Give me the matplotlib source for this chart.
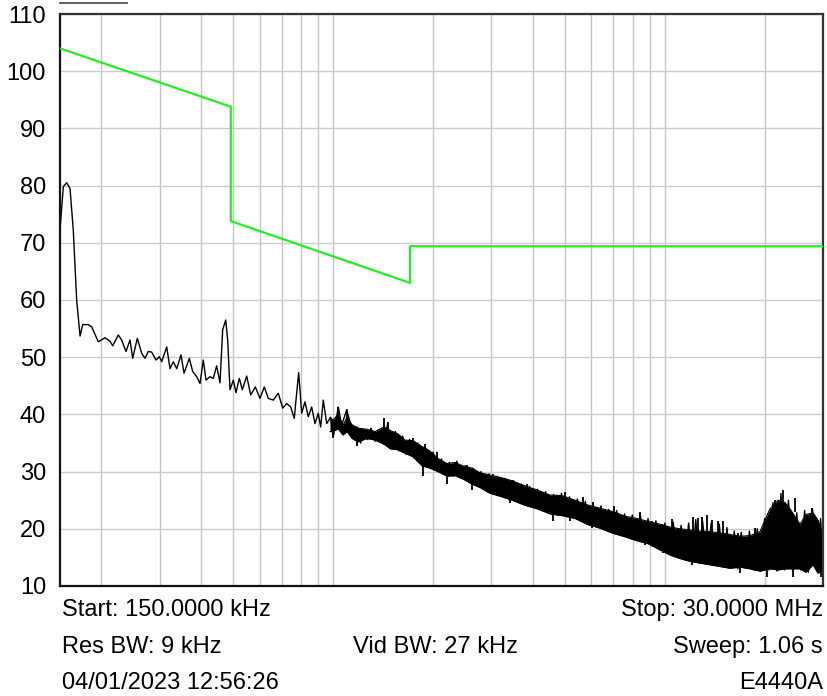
import matplotlib
matplotlib.use("Agg")
import matplotlib.pyplot as plt
from matplotlib.lines import Line2D

plt.rcParams['font.family'] = ['Liberation Sans', 'DejaVu Sans']

# ---- data ----
# Limit line (MHz, dBuV)
limit_f_mhz = [0.15, 0.491, 0.491, 1.705, 1.705, 30.0]
limit_db = [104.0, 93.8, 73.8, 63.0, 69.4, 69.4]

# Measured trace, low-frequency detail (MHz, dBuV)
trace_f_mhz = [0.150, 0.1535, 0.1571, 0.1608, 0.1645, 0.1684, 0.1724, 0.1756, 0.1826, 0.1869,
               0.1957, 0.2050, 0.2123, 0.2163, 0.2249, 0.2302, 0.2372, 0.2439, 0.2485, 0.2566,
               0.2645, 0.2706, 0.2769, 0.2835, 0.2922, 0.2990, 0.3040, 0.3088, 0.3147, 0.3220,
               0.3295, 0.3373, 0.3476, 0.3549, 0.3682, 0.3770, 0.3875, 0.3966, 0.4057, 0.4134,
               0.4250, 0.4349, 0.4453, 0.4556, 0.4642, 0.4740, 0.4806, 0.4884, 0.4997, 0.5092,
               0.5210, 0.5320, 0.5484, 0.5639, 0.5822, 0.6014, 0.6197, 0.6372, 0.6596, 0.6829,
               0.7042, 0.7241, 0.7444, 0.7632, 0.7723, 0.7868, 0.8035, 0.8220, 0.8411, 0.8612,
               0.8812, 0.9015, 0.9168, 0.9335, 0.9558, 0.9826, 1.0007, 1.0361, 1.0607, 1.0982]
trace_db = [72.2, 79.8, 80.5, 79.5, 72.2, 60.0, 53.7, 55.7, 55.7, 55.3,
            52.7, 53.4, 52.8, 52.0, 53.9, 53.0, 51.0, 53.0, 49.8, 53.3,
            50.7, 49.8, 51.0, 50.9, 49.5, 50.1, 49.2, 50.4, 51.8, 48.0,
            49.2, 48.0, 50.4, 47.2, 49.8, 47.5, 46.6, 45.4, 49.5, 46.0,
            46.6, 46.3, 48.5, 45.5, 54.8, 56.5, 53.0, 44.3, 46.0, 43.8,
            46.3, 44.3, 46.7, 43.4, 44.8, 42.8, 44.8, 42.8, 42.5, 43.7,
            41.1, 41.9, 41.3, 39.3, 42.5, 47.3, 40.2, 42.2, 39.6, 41.3,
            38.4, 40.2, 37.8, 42.5, 38.4, 39.5, 36.1, 41.3, 38.1, 40.8]

# Dense high-frequency part of the trace, decimated: alternating peak / valley readings
dense_f_mhz = [1.12, 1.15, 1.18, 1.21, 1.24, 1.27, 1.30, 1.34, 1.38, 1.42,
               1.46, 1.50, 1.54, 1.58, 1.62, 1.66, 1.70, 1.75, 1.80, 1.85,
               1.90, 1.95, 2.00, 2.06, 2.12, 2.18, 2.24, 2.30, 2.36, 2.43,
               2.50, 2.57, 2.64, 2.71, 2.79, 2.87, 2.95, 3.03, 3.12, 3.21,
               3.30, 3.40, 3.50, 3.60, 3.70, 3.80, 3.91, 4.02, 4.13, 4.25,
               4.37, 4.49, 4.62, 4.75, 4.88, 5.02, 5.16, 5.30, 5.45, 5.60,
               5.76, 5.92, 6.08, 6.25, 6.42, 6.60, 6.78, 6.97, 7.16, 7.36,
               7.56, 7.77, 7.98, 8.20, 8.43, 8.66, 8.90, 9.15, 9.40, 9.70,
               10.0, 10.3, 10.6, 10.9, 11.2, 11.5, 11.8, 12.1, 12.4, 12.7,
               13.0, 13.4, 13.8, 14.2, 14.6, 15.0, 15.4, 15.8, 16.2, 16.6,
               17.0, 17.5, 18.0, 18.5, 19.0, 19.5, 20.0, 20.6, 21.2, 21.8,
               22.4, 23.0, 23.6, 24.3, 25.0, 25.7, 26.4, 27.1, 27.9, 28.7,
               29.5, 30.0]
dense_db = [39.0, 35.8, 37.8, 35.0, 37.2, 35.6, 37.6, 35.3, 37.0, 34.8,
            38.4, 34.0, 37.0, 33.6, 36.2, 33.0, 35.6, 32.4, 35.0, 31.2,
            34.2, 30.8, 33.4, 30.0, 32.2, 29.4, 31.6, 29.2, 31.8, 28.8,
            31.0, 28.2, 30.6, 27.6, 30.0, 26.8, 29.6, 26.2, 29.2, 25.8,
            28.8, 25.0, 28.4, 24.8, 27.8, 24.2, 27.4, 23.7, 26.9, 23.3,
            26.5, 22.7, 26.0, 22.4, 26.2, 22.2, 25.6, 21.9, 25.2, 21.3,
            24.8, 20.6, 24.4, 20.3, 24.0, 19.8, 23.4, 19.3, 23.2, 18.9,
            22.6, 18.5, 22.4, 18.0, 22.6, 17.6, 21.8, 17.0, 21.4, 16.3,
            21.0, 15.6, 21.2, 15.0, 20.6, 14.6, 21.0, 14.2, 21.6, 14.0,
            21.4, 13.8, 21.0, 13.6, 20.8, 13.4, 20.2, 13.2, 19.6, 13.0,
            19.4, 13.2, 19.6, 12.8, 20.0, 12.6, 21.8, 12.8, 24.6, 12.6,
            26.2, 12.8, 25.0, 12.6, 22.8, 12.8, 23.2, 12.4, 23.4, 13.2,
            21.8, 14.0]

# Dense part: upper / lower envelope of the solid core (MHz, dBuV)
band_f_mhz = [0.978, 0.999, 1.034, 1.070, 1.101, 1.139, 1.188, 1.264, 1.337, 1.423,
              1.484, 1.568, 1.646, 1.740, 1.852, 1.958, 2.070, 2.203, 2.329, 2.463,
              2.622, 2.772, 2.971, 3.184, 3.461, 3.787, 4.117, 4.507, 4.899, 5.361,
              5.827, 6.377, 6.981, 7.585, 8.243, 8.898, 9.674, 10.37, 11.11, 11.91,
              12.77, 13.69, 14.67, 15.72, 16.85, 18.07, 19.37, 20.05, 20.76, 21.95,
              23.04, 23.85, 25.57, 26.66, 27.99, 28.98, 30.0]
band_hi_db = [39.4, 39.0, 40.0, 38.1, 39.5, 38.2, 37.6, 37.4, 37.0, 37.8,
              37.2, 36.6, 35.5, 35.4, 34.4, 33.6, 32.3, 31.4, 31.6, 31.0,
              30.6, 29.8, 29.4, 29.0, 28.4, 27.5, 26.8, 25.9, 25.8, 25.0,
              24.2, 23.6, 23.0, 22.2, 21.8, 21.3, 20.8, 20.3, 20.0, 19.8,
              19.6, 19.5, 19.3, 19.0, 18.7, 18.8, 19.5, 21.5, 23.5, 25.0,
              24.6, 23.5, 20.8, 22.5, 22.8, 21.5, 18.6]
band_lo_db = [37.0, 37.0, 37.5, 36.4, 37.0, 35.8, 35.2, 35.8, 35.5, 34.8,
              34.0, 33.8, 33.2, 32.6, 31.0, 30.6, 30.0, 29.2, 29.3, 28.7,
              27.8, 27.2, 26.2, 25.7, 25.0, 24.1, 23.5, 22.6, 22.3, 21.8,
              20.8, 20.1, 19.2, 18.6, 17.9, 17.4, 16.3, 15.4, 14.8, 14.3,
              14.0, 13.7, 13.4, 13.1, 13.3, 13.0, 12.6, 12.8, 13.0, 12.8,
              13.0, 13.0, 13.0, 12.4, 13.7, 12.2, 13.0]

# Individual spikes standing out of the dense part: frequency, tip level, base level
spike_up_f_mhz = [1.036, 1.103, 1.423, 1.466, 1.737, 1.892, 2.052, 2.527, 3.040, 3.453,
                  3.833, 5.001, 5.679, 6.085, 7.044, 8.418, 9.129, 9.787, 10.49, 12.19,
                  12.57, 12.92, 13.38, 13.85, 14.50, 15.01, 16.66, 18.71, 21.50, 22.77,
                  24.69, 27.84]
spike_up_tip_db = [41.3, 40.8, 39.4, 38.7, 35.8, 34.8, 33.5, 31.2, 29.6, 28.5,
                   27.8, 26.5, 25.6, 24.7, 24.0, 23.0, 21.3, 20.9, 21.8, 22.1,
                   21.9, 22.0, 22.5, 21.5, 21.3, 21.3, 19.2, 20.1, 25.0, 26.8,
                   25.3, 23.6]
spike_up_base_db = [38.5, 38.0, 36.5, 36.3, 34.0, 32.5, 31.5, 29.5, 28.0, 27.0,
                    26.0, 24.0, 23.5, 22.5, 22.0, 21.0, 20.0, 20.0, 19.5, 19.5,
                    19.5, 19.5, 19.5, 19.5, 19.0, 19.0, 18.0, 18.5, 22.0, 24.0,
                    23.0, 21.5]
spike_dn_f_mhz = [0.999, 1.182, 1.869, 2.208, 2.627, 3.414, 4.592, 5.177, 6.018, 8.715,
                  9.894, 12.05, 16.85, 20.29, 24.41, 29.58]
spike_dn_tip_db = [35.9, 34.5, 29.3, 27.8, 26.8, 24.5, 21.4, 21.4, 20.1, 17.2,
                   15.7, 13.7, 12.2, 11.6, 11.6, 11.6]
spike_dn_base_db = [37.5, 35.5, 31.5, 29.5, 28.0, 25.5, 22.5, 22.0, 21.0, 17.8,
                    16.5, 14.5, 13.2, 12.8, 13.0, 12.8]

y_ticks = [10, 20, 30, 40, 50, 60, 70, 80, 90, 100, 110]
x_grid_mhz = [0.2, 0.3, 0.4, 0.5, 0.6, 0.7, 0.8, 0.9, 1, 2, 3, 4, 5, 6, 7, 8, 9, 10, 20]

info_left = ["Start: 150.0000 kHz", "Res BW: 9 kHz", "04/01/2023 12:56:26"]
info_mid = ["", "Vid BW: 27 kHz", ""]
info_right = ["Stop: 30.0000 MHz", "Sweep: 1.06 s", "E4440A"]

# ---- figure ----
W, H = 827, 696
FS = 17
fig = plt.figure(figsize=(W / 100, H / 100), dpi=100)
ax = fig.add_axes([60 / W, 1 - 586 / H, (823 - 60) / W, (586 - 14) / H])

ax.set_xscale('log')
ax.set_xlim(0.15, 30.0)
ax.set_ylim(10, 110)

for g in x_grid_mhz:
    ax.axvline(g, color='#c4c4c4', lw=1.0, zorder=0)
for t in y_ticks:
    ax.axhline(t, color='#cccccc', lw=1.0, zorder=0)

ax.plot(limit_f_mhz, limit_db, color='#22ee22', lw=1.6, zorder=3)

ax.plot(trace_f_mhz, trace_db, color='black', lw=1.0, zorder=2)
ax.fill_between(band_f_mhz, band_lo_db, band_hi_db, color='black', lw=0, zorder=2)
ax.plot(band_f_mhz, band_hi_db, color='black', lw=0.8, zorder=2)
ax.plot(band_f_mhz, band_lo_db, color='black', lw=0.8, zorder=2)
ax.plot([trace_f_mhz[-1]] + dense_f_mhz, [trace_db[-1]] + dense_db,
        color='black', lw=1.0, zorder=2)
ax.vlines(spike_up_f_mhz, spike_up_base_db, spike_up_tip_db, color='black', lw=1.3, zorder=2)
ax.vlines(spike_dn_f_mhz, spike_dn_tip_db, spike_dn_base_db, color='black', lw=1.3, zorder=2)

ax.set_yticks(y_ticks)
ax.set_yticklabels([str(t) for t in y_ticks], fontsize=FS)
ax.tick_params(axis='y', length=0, pad=10)
ax.set_xticks([])
ax.set_xticks([], minor=True)

for s in ['left', 'bottom']:
    ax.spines[s].set_color('#111111')
    ax.spines[s].set_linewidth(1.6)
for s in ['top', 'right']:
    ax.spines[s].set_color('#333333')
    ax.spines[s].set_linewidth(1.6)

# small line above the plot at the top-left
fig.add_artist(Line2D([60 / W, 127 / W], [1 - 2.7 / H, 1 - 2.7 / H],
                      color='#555555', lw=1.3, transform=fig.transFigure))

rows_y = [610, 647, 683]
for yy, l, m, r in zip(rows_y, info_left, info_mid, info_right):
    fy = 1 - yy / H
    fig.text(62 / W, fy, l, ha='left', va='center', fontsize=FS)
    if m:
        fig.text(435 / W, fy, m, ha='center', va='center', fontsize=FS)
    fig.text(823 / W, fy, r, ha='right', va='center', fontsize=FS)

fig.savefig('out.png', dpi=100)
